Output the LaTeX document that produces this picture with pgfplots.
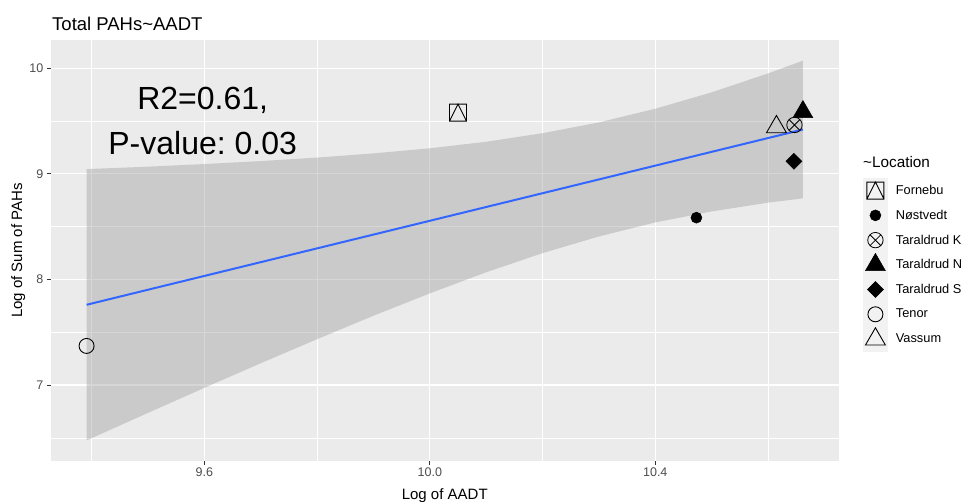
\documentclass[border=0pt]{standalone}
\usepackage{pgfplots}
\pgfplotsset{compat=1.18}
\usepackage{fontspec}
\setmainfont{Liberation Sans}
\frenchspacing
\definecolor{panelbg}{HTML}{EBEBEB}
\definecolor{keybg}{HTML}{F2F2F2}
\definecolor{ticklab}{HTML}{4D4D4D}
\definecolor{tickcol}{HTML}{333333}
\definecolor{ribbon}{HTML}{999999}
\definecolor{lineblue}{HTML}{3366FF}

\pgfdeclareplotmark{sqtri}{%
  \pgfpathrectangle{\pgfpoint{-\pgfplotmarksize}{-\pgfplotmarksize}}{\pgfpoint{2\pgfplotmarksize}{2\pgfplotmarksize}}%
  \pgfpathmoveto{\pgfpoint{-\pgfplotmarksize}{-\pgfplotmarksize}}%
  \pgfpathlineto{\pgfpoint{0pt}{\pgfplotmarksize}}%
  \pgfpathlineto{\pgfpoint{\pgfplotmarksize}{-\pgfplotmarksize}}%
  \pgfusepathqstroke}
\pgfdeclareplotmark{circx}{%
  \pgfpathcircle{\pgfpointorigin}{\pgfplotmarksize}%
  \pgfpathmoveto{\pgfpoint{-0.7071\pgfplotmarksize}{-0.7071\pgfplotmarksize}}%
  \pgfpathlineto{\pgfpoint{0.7071\pgfplotmarksize}{0.7071\pgfplotmarksize}}%
  \pgfpathmoveto{\pgfpoint{-0.7071\pgfplotmarksize}{0.7071\pgfplotmarksize}}%
  \pgfpathlineto{\pgfpoint{0.7071\pgfplotmarksize}{-0.7071\pgfplotmarksize}}%
  \pgfusepathqstroke}
\pgfdeclareplotmark{rdiamond*}{%
  \pgfpathmoveto{\pgfpoint{0pt}{\pgfplotmarksize}}%
  \pgfpathlineto{\pgfpoint{\pgfplotmarksize}{0pt}}%
  \pgfpathlineto{\pgfpoint{0pt}{-\pgfplotmarksize}}%
  \pgfpathlineto{\pgfpoint{-\pgfplotmarksize}{0pt}}%
  \pgfpathclose
  \pgfusepathqfillstroke}

\begin{document}
\begin{tikzpicture}
\path[use as bounding box] (0pt,0pt) rectangle (965pt,501pt);
\begin{axis}[
  at={(50.5pt,40pt)}, anchor=south west,
  scale only axis, width=788.5pt, height=421pt,
  xmin=9.327, xmax=10.726, ymin=6.28, ymax=10.268,
  axis background/.style={fill=panelbg},
  axis line style={draw=none},
  xtick={9.6,10.0,10.4}, xticklabels={9.6,10.0,10.4},
  ytick={7,8,9,10}, yticklabels={7,8,9,10},
  minor xtick={9.4,9.8,10.2,10.6},
  minor ytick={6.5,7.5,8.5,9.5},
  grid=both,
  major grid style={white, line width=1.1pt},
  minor grid style={white, line width=0.55pt},
  tick align=outside, xtick pos=bottom, ytick pos=left,
  major tick length=3.7pt, minor tick length=0pt,
  tick style={tickcol, line width=0.8pt},
  tick label style={font=\fontsize{12.5}{14}\selectfont, color=ticklab},
  /pgf/number format/assume math mode=true,
  xlabel={Log of AADT}, ylabel={Log of Sum of PAHs},
  label style={font=\fontsize{15}{17}\selectfont},
  xlabel style={at={(axis description cs:0.5,0)}, anchor=base, yshift=-38.5pt},
  ylabel style={at={(axis description cs:-0.0361,0.5)}, anchor=base, rotate=0},
  legend style={at={(axis description cs:1.0304,0.672)}, anchor=north west,
    draw=none, fill=none, font=\fontsize{12.8}{14}\selectfont,
    row sep=0pt, column sep=8pt, inner sep=0pt, outer sep=0pt,
    nodes={inner sep=0pt}},
  legend cell align=left,
  legend image code/.code={\fill[keybg] (0pt,-12.05pt) rectangle (24pt,12.05pt);
    \draw[#1] plot coordinates {(12pt,0pt)};},
]
% points (drawn first, the ribbon lies over them)
\addplot[only marks, mark=sqtri, mark size=8.5pt, black, line width=0.9pt] coordinates {(10.050,9.580)};
\addlegendentry{Fornebu}
\addplot[only marks, mark=*, mark size=5.5pt, black, line width=0.5pt] coordinates {(10.473,8.585)};
\addlegendentry{Nøstvedt}
\addplot[only marks, mark=circx, mark size=7.7pt, black, line width=0.8pt] coordinates {(10.647,9.463)};
\addlegendentry{Taraldrud K}
\addplot[only marks, mark=triangle*, mark size=11.5pt, black, fill=black, line width=0.5pt] coordinates {(10.662,9.586)};
\addlegendentry{Taraldrud N}
\addplot[only marks, mark=rdiamond*, mark size=8pt, black, fill=black, line width=0.5pt] coordinates {(10.646,9.119)};
\addlegendentry{Taraldrud S}
\addplot[only marks, mark=o, mark size=7.5pt, black, line width=0.9pt] coordinates {(9.391,7.370)};
\addlegendentry{Tenor}
\addplot[only marks, mark=triangle, mark size=11.5pt, black, line width=0.9pt] coordinates {(10.615,9.444)};
\addlegendentry{Vassum}
% confidence band
\addplot[forget plot, draw=none, fill=ribbon, fill opacity=0.4] coordinates {
 (9.391,9.045) (9.5,9.068) (9.6,9.093) (9.7,9.121) (9.8,9.154) (9.9,9.194)
 (10.0,9.242) (10.1,9.304) (10.2,9.385) (10.3,9.487) (10.4,9.617) (10.5,9.772)
 (10.6,9.951) (10.662,10.072)
 (10.662,8.768) (10.6,8.727) (10.5,8.644) (10.4,8.540) (10.3,8.407) (10.2,8.249)
 (10.1,8.068) (10.0,7.868) (9.9,7.656) (9.8,7.434) (9.7,7.206) (9.6,6.973)
 (9.5,6.736) (9.391,6.475)} -- cycle;
% fitted line
\addplot[forget plot, lineblue, line width=2pt] coordinates {(9.391,7.760) (10.662,9.420)};
\node[anchor=base, font=\fontsize{32}{38}\selectfont] at (axis cs:9.597,9.610) {R2=0.61,};
\node[anchor=base, font=\fontsize{32}{38}\selectfont] at (axis cs:9.597,9.179) {P-value: 0.03};
\end{axis}
\node[anchor=base west, font=\fontsize{18.5}{21}\selectfont, inner sep=0pt] at (52pt,470.3pt) {Total PAHs\textasciitilde AADT};
\node[anchor=base west, font=\fontsize{15.3}{17}\selectfont, inner sep=0pt] at (863pt,333pt) {\textasciitilde Location};
\end{tikzpicture}
\end{document}
